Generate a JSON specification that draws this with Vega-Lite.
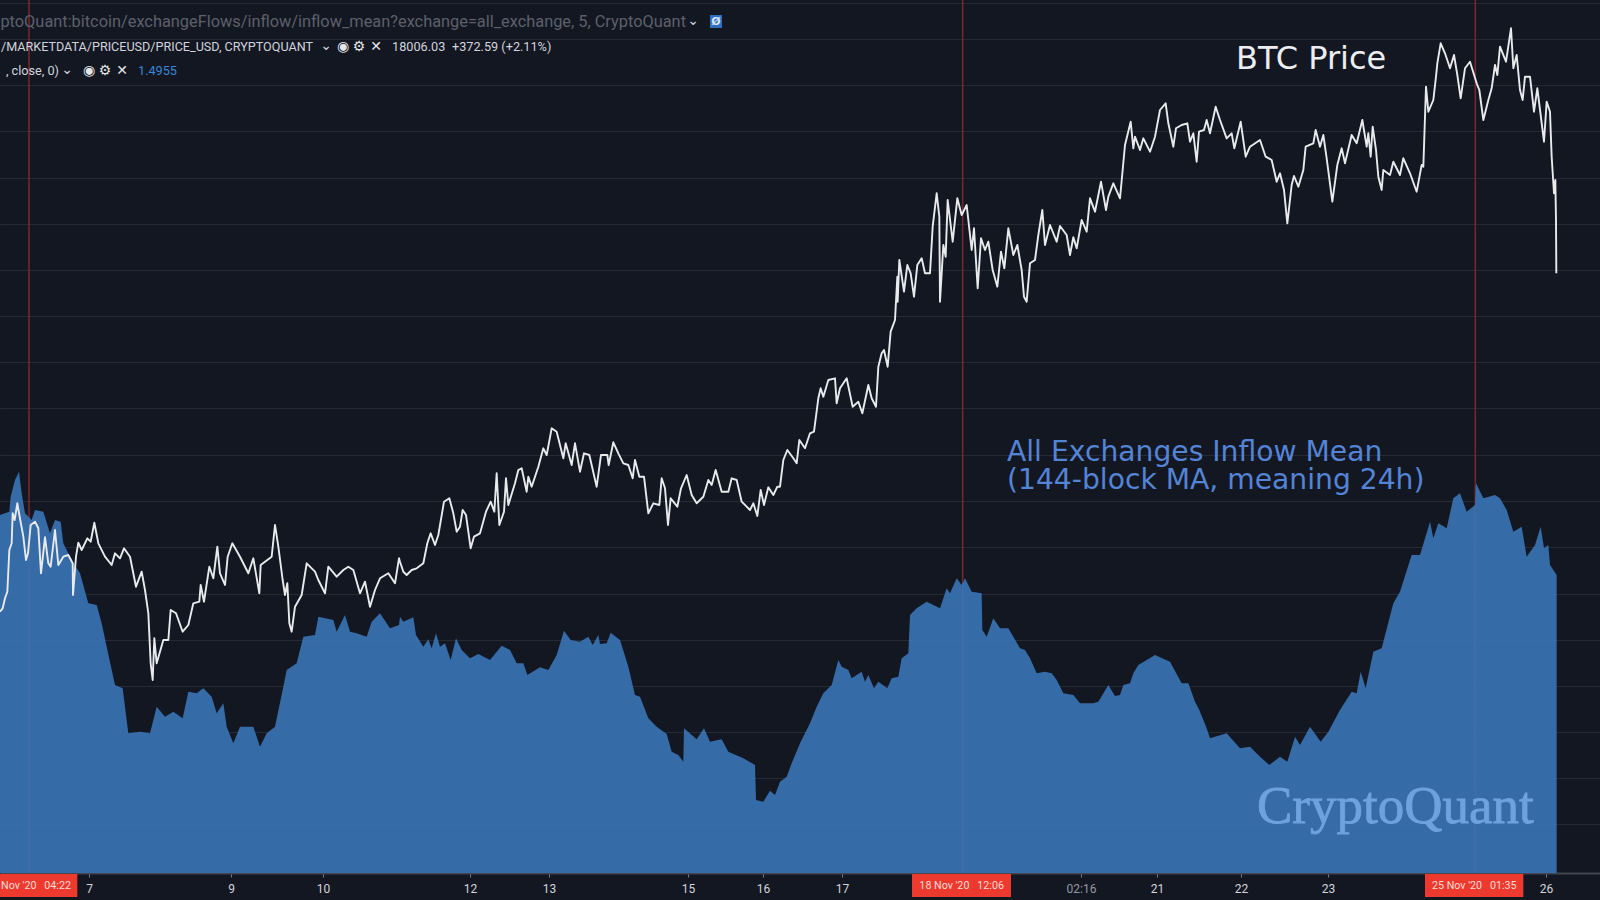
{"$schema":"https://vega.github.io/schema/vega-lite/v6.json","width":1600,"height":873,"padding":{"left":0,"top":0,"right":0,"bottom":27},"autosize":{"type":"none"},"background":"#131722","config":{"view":{"stroke":null},"text":{"font":"Roboto"}},
"datasets":{"one":[{"n":1}],
"markers":[{"bar":87,"when":"6 Nov '20 04:22"},{"bar":2888,"when":"18 Nov '20 12:06"},{"bar":4426,"when":"25 Nov '20 01:35"}],
"tags":[{"bar":0,"bar2":232,"mid":108,"label":"Nov '20\u00a0\u00a0\u00a004:22"},{"bar":2736,"bar2":3033,"mid":2885,"label":"18 Nov '20\u00a0\u00a0\u00a012:06"},{"bar":4275,"bar2":4570,"mid":4423,"label":"25 Nov '20\u00a0\u00a0\u00a001:35"}],
"inflow":[{"bar":0,"inflow":1.432},{"bar":28,"inflow":1.445},{"bar":32,"inflow":1.505},{"bar":45,"inflow":1.572},{"bar":57,"inflow":1.605},{"bar":65,"inflow":1.519},{"bar":75,"inflow":1.439},{"bar":95,"inflow":1.412},{"bar":105,"inflow":1.452},{"bar":130,"inflow":1.445},{"bar":150,"inflow":1.359},{"bar":165,"inflow":1.412},{"bar":182,"inflow":1.405},{"bar":190,"inflow":1.319},{"bar":215,"inflow":1.252},{"bar":240,"inflow":1.199},{"bar":265,"inflow":1.079},{"bar":290,"inflow":1.072},{"bar":305,"inflow":0.999},{"bar":320,"inflow":0.905},{"bar":345,"inflow":0.752},{"bar":368,"inflow":0.739},{"bar":385,"inflow":0.559},{"bar":420,"inflow":0.565},{"bar":450,"inflow":0.559},{"bar":470,"inflow":0.665},{"bar":495,"inflow":0.625},{"bar":520,"inflow":0.645},{"bar":548,"inflow":0.619},{"bar":565,"inflow":0.725},{"bar":590,"inflow":0.719},{"bar":610,"inflow":0.739},{"bar":635,"inflow":0.705},{"bar":650,"inflow":0.639},{"bar":670,"inflow":0.679},{"bar":680,"inflow":0.585},{"bar":700,"inflow":0.519},{"bar":720,"inflow":0.585},{"bar":760,"inflow":0.585},{"bar":780,"inflow":0.505},{"bar":800,"inflow":0.559},{"bar":825,"inflow":0.585},{"bar":850,"inflow":0.745},{"bar":860,"inflow":0.812},{"bar":890,"inflow":0.839},{"bar":910,"inflow":0.945},{"bar":945,"inflow":0.952},{"bar":955,"inflow":1.025},{"bar":1000,"inflow":1.012},{"bar":1010,"inflow":0.965},{"bar":1035,"inflow":1.032},{"bar":1050,"inflow":0.965},{"bar":1070,"inflow":0.959},{"bar":1100,"inflow":0.945},{"bar":1115,"inflow":1.005},{"bar":1140,"inflow":1.039},{"bar":1170,"inflow":0.979},{"bar":1197,"inflow":0.992},
{"bar":1200,"inflow":1.025},{"bar":1210,"inflow":1.005},{"bar":1240,"inflow":1.023},{"bar":1248,"inflow":0.952},{"bar":1270,"inflow":0.905},{"bar":1285,"inflow":0.935},{"bar":1295,"inflow":0.899},{"bar":1308,"inflow":0.959},{"bar":1320,"inflow":0.905},{"bar":1335,"inflow":0.919},{"bar":1352,"inflow":0.852},{"bar":1368,"inflow":0.939},{"bar":1385,"inflow":0.892},{"bar":1410,"inflow":0.859},{"bar":1435,"inflow":0.876},{"bar":1470,"inflow":0.852},{"bar":1505,"inflow":0.909},{"bar":1530,"inflow":0.892},{"bar":1550,"inflow":0.839},{"bar":1570,"inflow":0.839},{"bar":1582,"inflow":0.792},{"bar":1620,"inflow":0.823},{"bar":1645,"inflow":0.812},{"bar":1670,"inflow":0.872},{"bar":1692,"inflow":0.969},{"bar":1712,"inflow":0.932},{"bar":1740,"inflow":0.925},{"bar":1765,"inflow":0.945},{"bar":1778,"inflow":0.912},{"bar":1795,"inflow":0.952},{"bar":1800,"inflow":0.916},{"bar":1820,"inflow":0.919},{"bar":1832,"inflow":0.961},{"bar":1860,"inflow":0.932},{"bar":1885,"inflow":0.825},{"bar":1905,"inflow":0.712},{"bar":1920,"inflow":0.705},{"bar":1945,"inflow":0.619},{"bar":1970,"inflow":0.585},{"bar":2000,"inflow":0.556},{"bar":2015,"inflow":0.485},{"bar":2035,"inflow":0.472},{"bar":2050,"inflow":0.445},{"bar":2052,"inflow":0.579},{"bar":2090,"inflow":0.535},{"bar":2112,"inflow":0.579},{"bar":2130,"inflow":0.525},{"bar":2165,"inflow":0.535},{"bar":2185,"inflow":0.485},{"bar":2230,"inflow":0.459},{"bar":2265,"inflow":0.432},{"bar":2268,"inflow":0.292},{"bar":2290,"inflow":0.285},{"bar":2310,"inflow":0.329},{"bar":2325,"inflow":0.312},{"bar":2340,"inflow":0.365},{"bar":2360,"inflow":0.385},{"bar":2375,"inflow":0.439},{"bar":2398,"inflow":0.512},
{"bar":2400,"inflow":0.519},{"bar":2430,"inflow":0.599},{"bar":2450,"inflow":0.665},{"bar":2470,"inflow":0.719},{"bar":2495,"inflow":0.752},{"bar":2515,"inflow":0.852},{"bar":2525,"inflow":0.825},{"bar":2545,"inflow":0.812},{"bar":2555,"inflow":0.779},{"bar":2585,"inflow":0.805},{"bar":2595,"inflow":0.765},{"bar":2605,"inflow":0.792},{"bar":2622,"inflow":0.739},{"bar":2635,"inflow":0.765},{"bar":2662,"inflow":0.739},{"bar":2675,"inflow":0.779},{"bar":2695,"inflow":0.785},{"bar":2705,"inflow":0.859},{"bar":2725,"inflow":0.879},{"bar":2730,"inflow":1.032},{"bar":2750,"inflow":1.059},{"bar":2780,"inflow":1.085},{"bar":2820,"inflow":1.059},{"bar":2840,"inflow":1.139},{"bar":2850,"inflow":1.119},{"bar":2870,"inflow":1.179},{"bar":2885,"inflow":1.152},{"bar":2895,"inflow":1.179},{"bar":2915,"inflow":1.125},{"bar":2945,"inflow":1.119},{"bar":2947,"inflow":0.972},{"bar":2960,"inflow":0.945},{"bar":2980,"inflow":1.019},{"bar":3000,"inflow":0.979},{"bar":3025,"inflow":0.979},{"bar":3060,"inflow":0.899},{"bar":3075,"inflow":0.892},{"bar":3090,"inflow":0.859},{"bar":3110,"inflow":0.799},{"bar":3135,"inflow":0.805},{"bar":3155,"inflow":0.799},{"bar":3170,"inflow":0.772},{"bar":3190,"inflow":0.719},{"bar":3220,"inflow":0.712},{"bar":3240,"inflow":0.679},{"bar":3280,"inflow":0.679},{"bar":3295,"inflow":0.685},{"bar":3325,"inflow":0.752},{"bar":3345,"inflow":0.708},{"bar":3360,"inflow":0.712},{"bar":3370,"inflow":0.752},{"bar":3390,"inflow":0.759},{"bar":3400,"inflow":0.799},{"bar":3415,"inflow":0.832},{"bar":3465,"inflow":0.872},{"bar":3510,"inflow":0.845},{"bar":3545,"inflow":0.759},{"bar":3565,"inflow":0.759},{"bar":3585,"inflow":0.685},{"bar":3598,"inflow":0.652},
{"bar":3600,"inflow":0.645},{"bar":3620,"inflow":0.579},{"bar":3630,"inflow":0.539},{"bar":3680,"inflow":0.559},{"bar":3720,"inflow":0.499},{"bar":3750,"inflow":0.505},{"bar":3780,"inflow":0.465},{"bar":3808,"inflow":0.432},{"bar":3840,"inflow":0.465},{"bar":3862,"inflow":0.445},{"bar":3885,"inflow":0.545},{"bar":3900,"inflow":0.512},{"bar":3930,"inflow":0.585},{"bar":3962,"inflow":0.525},{"bar":3985,"inflow":0.565},{"bar":4020,"inflow":0.652},{"bar":4055,"inflow":0.725},{"bar":4070,"inflow":0.719},{"bar":4082,"inflow":0.805},{"bar":4097,"inflow":0.739},{"bar":4120,"inflow":0.885},{"bar":4145,"inflow":0.899},{"bar":4180,"inflow":1.079},{"bar":4200,"inflow":1.125},{"bar":4235,"inflow":1.272},{"bar":4260,"inflow":1.272},{"bar":4290,"inflow":1.405},{"bar":4300,"inflow":1.339},{"bar":4315,"inflow":1.399},{"bar":4340,"inflow":1.379},{"bar":4360,"inflow":1.499},{"bar":4380,"inflow":1.519},{"bar":4400,"inflow":1.445},{"bar":4425,"inflow":1.472},{"bar":4428,"inflow":1.559},{"bar":4450,"inflow":1.499},{"bar":4485,"inflow":1.512},{"bar":4500,"inflow":1.499},{"bar":4520,"inflow":1.452},{"bar":4540,"inflow":1.365},{"bar":4565,"inflow":1.385},{"bar":4580,"inflow":1.265},{"bar":4605,"inflow":1.312},{"bar":4622,"inflow":1.385},{"bar":4632,"inflow":1.299},{"bar":4645,"inflow":1.312},{"bar":4650,"inflow":1.232},{"bar":4670,"inflow":1.192}],
"price":[{"bar":0,"price":13883},{"bar":8,"price":13917},{"bar":15,"price":14017},{"bar":22,"price":14083},{"bar":28,"price":14500},{"bar":35,"price":14567},{"bar":38,"price":14867},{"bar":44,"price":14800},{"bar":52,"price":14967},{"bar":58,"price":14850},{"bar":70,"price":14633},{"bar":78,"price":14400},{"bar":84,"price":14467},{"bar":92,"price":14750},{"bar":105,"price":14783},{"bar":115,"price":14717},{"bar":123,"price":14267},{"bar":135,"price":14627},{"bar":145,"price":14367},{"bar":152,"price":14333},{"bar":165,"price":14700},{"bar":175,"price":14350},{"bar":190,"price":14433},{"bar":205,"price":14450},{"bar":218,"price":14367},{"bar":219,"price":14050},{"bar":228,"price":14433},{"bar":235,"price":14573},{"bar":245,"price":14500},{"bar":262,"price":14617},{"bar":272,"price":14583},{"bar":283,"price":14773},{"bar":295,"price":14567},{"bar":315,"price":14433},{"bar":335,"price":14350},{"bar":345,"price":14467},{"bar":360,"price":14417},{"bar":372,"price":14517},{"bar":390,"price":14433},{"bar":408,"price":14133},{"bar":425,"price":14283},{"bar":435,"price":14100},{"bar":445,"price":13867},{"bar":452,"price":13367},{"bar":458,"price":13200},{"bar":463,"price":13617},{"bar":470,"price":13367},{"bar":490,"price":13600},{"bar":505,"price":13600},{"bar":512,"price":13900},{"bar":528,"price":13867},{"bar":548,"price":13683},{"bar":565,"price":13750},{"bar":580,"price":13967},{"bar":598,"price":13983},{"bar":602,"price":14150},{"bar":612,"price":13983},{"bar":628,"price":14333},{"bar":640,"price":14217},{"bar":652,"price":14533},{"bar":660,"price":14267},{"bar":675,"price":14150},{"bar":683,"price":14433},{"bar":697,"price":14567},{"bar":720,"price":14433},{"bar":745,"price":14267},{"bar":760,"price":14417},{"bar":778,"price":14067},{"bar":782,"price":14350},{"bar":815,"price":14433},{"bar":825,"price":14750},{"bar":835,"price":14533},{"bar":848,"price":14200},{"bar":855,"price":14050},{"bar":862,"price":14167},{"bar":868,"price":13767},{"bar":875,"price":13683},{"bar":885,"price":13933},{"bar":905,"price":14050},{"bar":920,"price":14367},{"bar":945,"price":14283},{"bar":955,"price":14200},{"bar":975,"price":14067},{"bar":985,"price":14333},{"bar":1010,"price":14233},{"bar":1030,"price":14300},{"bar":1045,"price":14333},{"bar":1060,"price":14300},{"bar":1080,"price":14067},{"bar":1095,"price":14183},{"bar":1110,"price":13933},{"bar":1125,"price":14100},{"bar":1140,"price":14217},{"bar":1165,"price":14267},{"bar":1185,"price":14167},{"bar":1197,"price":14417},
{"bar":1200,"price":14383},{"bar":1210,"price":14283},{"bar":1220,"price":14250},{"bar":1235,"price":14300},{"bar":1250,"price":14317},{"bar":1270,"price":14367},{"bar":1282,"price":14567},{"bar":1292,"price":14667},{"bar":1305,"price":14550},{"bar":1315,"price":14650},{"bar":1332,"price":14983},{"bar":1348,"price":15017},{"bar":1360,"price":14867},{"bar":1370,"price":14683},{"bar":1380,"price":14733},{"bar":1388,"price":14900},{"bar":1398,"price":14850},{"bar":1412,"price":14517},{"bar":1422,"price":14633},{"bar":1440,"price":14667},{"bar":1458,"price":14883},{"bar":1472,"price":14983},{"bar":1483,"price":14883},{"bar":1490,"price":15267},{"bar":1498,"price":14750},{"bar":1512,"price":14883},{"bar":1518,"price":15217},{"bar":1525,"price":14950},{"bar":1545,"price":15167},{"bar":1555,"price":15300},{"bar":1565,"price":15317},{"bar":1580,"price":15083},{"bar":1585,"price":15233},{"bar":1595,"price":15133},{"bar":1615,"price":15333},{"bar":1630,"price":15517},{"bar":1640,"price":15450},{"bar":1655,"price":15717},{"bar":1670,"price":15683},{"bar":1690,"price":15417},{"bar":1697,"price":15567},{"bar":1715,"price":15350},{"bar":1725,"price":15567},{"bar":1740,"price":15283},{"bar":1752,"price":15467},{"bar":1768,"price":15450},{"bar":1790,"price":15133},{"bar":1803,"price":15450},{"bar":1822,"price":15450},{"bar":1826,"price":15350},{"bar":1840,"price":15577},{"bar":1855,"price":15467},{"bar":1870,"price":15367},{"bar":1885,"price":15350},{"bar":1898,"price":15217},{"bar":1905,"price":15400},{"bar":1918,"price":15233},{"bar":1932,"price":15233},{"bar":1945,"price":14867},{"bar":1960,"price":14967},{"bar":1978,"price":14950},{"bar":1985,"price":15217},{"bar":1995,"price":15117},{"bar":2004,"price":14750},{"bar":2012,"price":15017},{"bar":2032,"price":14933},{"bar":2043,"price":15117},{"bar":2060,"price":15250},{"bar":2075,"price":15050},{"bar":2090,"price":14967},{"bar":2110,"price":15033},{"bar":2125,"price":15200},{"bar":2135,"price":15150},{"bar":2147,"price":15300},{"bar":2165,"price":15083},{"bar":2185,"price":15083},{"bar":2195,"price":15217},{"bar":2210,"price":15200},{"bar":2225,"price":14983},{"bar":2250,"price":14900},{"bar":2260,"price":14967},{"bar":2272,"price":14840},{"bar":2282,"price":15100},{"bar":2292,"price":14950},{"bar":2305,"price":15127},{"bar":2320,"price":15050},{"bar":2332,"price":15133},{"bar":2340,"price":15133},{"bar":2350,"price":15400},{"bar":2362,"price":15500},{"bar":2380,"price":15417},{"bar":2390,"price":15367},{"bar":2398,"price":15600},
{"bar":2415,"price":15517},{"bar":2430,"price":15667},{"bar":2442,"price":15683},{"bar":2455,"price":16017},{"bar":2462,"price":16117},{"bar":2470,"price":16033},{"bar":2485,"price":16200},{"bar":2505,"price":16217},{"bar":2510,"price":15967},{"bar":2520,"price":16117},{"bar":2540,"price":16217},{"bar":2558,"price":15933},{"bar":2575,"price":15983},{"bar":2587,"price":15867},{"bar":2605,"price":16150},{"bar":2615,"price":16017},{"bar":2628,"price":15933},{"bar":2635,"price":16333},{"bar":2645,"price":16467},{"bar":2652,"price":16500},{"bar":2663,"price":16333},{"bar":2672,"price":16683},{"bar":2685,"price":16800},{"bar":2693,"price":16983},{"bar":2692,"price":17233},{"bar":2698,"price":17400},{"bar":2712,"price":17083},{"bar":2722,"price":17350},{"bar":2732,"price":17267},{"bar":2742,"price":17033},{"bar":2752,"price":17350},{"bar":2765,"price":17417},{"bar":2775,"price":17267},{"bar":2790,"price":17267},{"bar":2798,"price":17733},{"bar":2810,"price":18067},{"bar":2818,"price":17833},{"bar":2820,"price":16983},{"bar":2830,"price":17550},{"bar":2837,"price":17433},{"bar":2843,"price":18000},{"bar":2858,"price":17583},{"bar":2872,"price":18017},{"bar":2885,"price":17850},{"bar":2900,"price":17950},{"bar":2915,"price":17500},{"bar":2922,"price":17717},{"bar":2933,"price":17117},{"bar":2943,"price":17617},{"bar":2955,"price":17500},{"bar":2965,"price":17583},{"bar":2978,"price":17300},{"bar":2992,"price":17133},{"bar":3003,"price":17483},{"bar":3013,"price":17317},{"bar":3025,"price":17717},{"bar":3040,"price":17450},{"bar":3052,"price":17550},{"bar":3065,"price":17300},{"bar":3072,"price":17033},{"bar":3080,"price":16983},{"bar":3090,"price":17367},{"bar":3105,"price":17400},{"bar":3115,"price":17650},{"bar":3127,"price":17900},{"bar":3135,"price":17550},{"bar":3150,"price":17750},{"bar":3170,"price":17583},{"bar":3180,"price":17740},{"bar":3200,"price":17650},{"bar":3210,"price":17450},{"bar":3220,"price":17627},{"bar":3230,"price":17517},{"bar":3245,"price":17800},{"bar":3260,"price":17683},{"bar":3270,"price":18017},{"bar":3285,"price":17883},{"bar":3303,"price":18183},{"bar":3318,"price":17900},{"bar":3325,"price":18033},{"bar":3340,"price":18167},{"bar":3360,"price":18017},{"bar":3368,"price":18300},
{"bar":3375,"price":18550},{"bar":3392,"price":18783},{"bar":3400,"price":18517},{"bar":3405,"price":18633},{"bar":3420,"price":18500},{"bar":3430,"price":18617},{"bar":3450,"price":18483},{"bar":3465,"price":18633},{"bar":3480,"price":18900},{"bar":3497,"price":18967},{"bar":3505,"price":18767},{"bar":3520,"price":18533},{"bar":3528,"price":18717},{"bar":3545,"price":18750},{"bar":3562,"price":18767},{"bar":3570,"price":18583},{"bar":3580,"price":18667},{"bar":3590,"price":18383},{"bar":3597,"price":18683},{"bar":3612,"price":18700},{"bar":3620,"price":18800},{"bar":3630,"price":18667},{"bar":3647,"price":18933},{"bar":3660,"price":18800},{"bar":3680,"price":18617},{"bar":3695,"price":18667},{"bar":3703,"price":18517},{"bar":3722,"price":18783},{"bar":3737,"price":18433},{"bar":3750,"price":18533},{"bar":3780,"price":18600},{"bar":3797,"price":18433},{"bar":3815,"price":18400},{"bar":3830,"price":18183},{"bar":3840,"price":18267},{"bar":3852,"price":18100},{"bar":3862,"price":17767},{"bar":3875,"price":18150},{"bar":3882,"price":18240},{"bar":3895,"price":18133},{"bar":3910,"price":18300},{"bar":3917,"price":18533},{"bar":3940,"price":18567},{"bar":3947,"price":18700},{"bar":3960,"price":18533},{"bar":3970,"price":18650},{"bar":3980,"price":18417},{"bar":3997,"price":17983},{"bar":4012,"price":18350},{"bar":4025,"price":18517},{"bar":4035,"price":18367},{"bar":4055,"price":18650},{"bar":4070,"price":18567},{"bar":4087,"price":18800},{"bar":4100,"price":18533},{"bar":4105,"price":18667},{"bar":4112,"price":18433},{"bar":4118,"price":18733},{"bar":4128,"price":18500},{"bar":4135,"price":18233},{"bar":4145,"price":18100},{"bar":4150,"price":18300},{"bar":4170,"price":18250},{"bar":4180,"price":18383},{"bar":4200,"price":18250},{"bar":4210,"price":18417},{"bar":4230,"price":18267},{"bar":4250,"price":18083},{"bar":4265,"price":18350},{"bar":4270,"price":18333},{"bar":4278,"price":19133},{"bar":4285,"price":18883},{"bar":4300,"price":19000},{"bar":4308,"price":19233},
{"bar":4312,"price":19367},{"bar":4322,"price":19567},{"bar":4335,"price":19467},{"bar":4350,"price":19317},{"bar":4362,"price":19450},{"bar":4372,"price":19250},{"bar":4382,"price":19017},{"bar":4395,"price":19317},{"bar":4410,"price":19383},{"bar":4430,"price":19167},{"bar":4438,"price":19100},{"bar":4450,"price":18800},{"bar":4465,"price":19000},{"bar":4475,"price":19117},{"bar":4485,"price":19350},{"bar":4492,"price":19250},{"bar":4500,"price":19533},{"bar":4518,"price":19383},{"bar":4533,"price":19717},{"bar":4540,"price":19317},{"bar":4550,"price":19450},{"bar":4560,"price":19100},{"bar":4568,"price":19000},{"bar":4575,"price":19233},{"bar":4590,"price":19233},{"bar":4602,"price":18883},{"bar":4612,"price":19117},{"bar":4632,"price":18583},{"bar":4640,"price":18983},{"bar":4650,"price":18883},{"bar":4655,"price":18433},{"bar":4662,"price":18067},{"bar":4666,"price":18200},{"bar":4668,"price":17800},{"bar":4669,"price":17267}]},
"layer":[
{"data":{"name":"markers"},"mark":{"type":"rule","color":"#7a2a2f","strokeWidth":1.5},"encoding":{"x":{"field":"bar","type":"quantitative","title":null,"scale":{"domain":[0,4800],"nice":false,"zero":false},"axis":{"title":null,"grid":false,"values":[267,693,969,1410,1647,2064,2289,2526,3243,3471,3723,3984,4638],"labelExpr":"{267:'7',693:'9',969:'10',1410:'12',1647:'13',2064:'15',2289:'16',2526:'17',3243:'02:16',3471:'21',3723:'22',3984:'23',4638:'26'}[datum.value]","labelFont":"Roboto","labelFontSize":12,"labelColor":{"condition":{"test":"datum.value==3243","value":"#9598a1"},"value":"#d1d4dc"},"labelPadding":6,"labelOverlap":false,"labelFlush":false,"tickColor":"#787b86","tickSize":4,"domainColor":"#434651","domainWidth":2}}}},
{"data":{"name":"inflow"},"mark":{"type":"area","color":"#3a74b6","opacity":0.9,"clip":false},"encoding":{"x":{"field":"bar","type":"quantitative","title":null},"y":{"field":"inflow","type":"quantitative","title":null,"axis":null,"stack":null,"scale":{"domain":[0,3.492],"nice":false}}}},
{"encoding":{"y":{"type":"quantitative","title":null,"scale":{"domain":[11270,20000],"nice":false,"zero":false},"axis":{"title":null,"labels":false,"ticks":false,"domain":false,"grid":true,"gridColor":"#262a35","gridWidth":1,"values":[19970,19610,19150,18690,18220,17760,17300,16840,16380,15920,15450,14990,14530,14060,13600,13140,12680,12220,11760]}}},
"layer":[
{"data":{"name":"price"},"mark":{"type":"line","color":"#e9eaec","strokeWidth":1.9,"strokeJoin":"round"},"encoding":{"x":{"field":"bar","type":"quantitative","title":null},"y":{"field":"price"}}},
{"data":{"name":"tags"},"mark":{"type":"rect","color":"#ee3a2e"},"encoding":{"x":{"field":"bar","type":"quantitative","title":null},"x2":{"field":"bar2"},"y":{"datum":11260},"y2":{"datum":11030}}},
{"data":{"name":"tags"},"mark":{"type":"text","color":"#f7dcd8","fontSize":10.7,"font":"Roboto"},"encoding":{"x":{"field":"mid","type":"quantitative","title":null},"y":{"datum":11145},"text":{"field":"label"}}},
{"data":{"name":"one"},"mark":{"type":"text","align":"left","font":"DejaVu Sans","fontSize":32,"color":"#eceef2","baseline":"middle"},"encoding":{"x":{"datum":3708},"y":{"datum":19410},"text":{"value":"BTC Price"}}},
{"data":{"name":"one"},"mark":{"type":"text","align":"left","font":"DejaVu Sans","fontSize":28.2,"color":"#5484d6","baseline":"alphabetic"},"encoding":{"x":{"datum":3021},"y":{"datum":15390},"text":{"value":"All Exchanges Inflow Mean"}}},
{"data":{"name":"one"},"mark":{"type":"text","align":"left","font":"DejaVu Sans","fontSize":28.2,"color":"#5484d6","baseline":"alphabetic"},"encoding":{"x":{"datum":3021},"y":{"datum":15110},"text":{"value":"(144-block MA, meaning 24h)"}}},
{"data":{"name":"one"},"mark":{"type":"text","align":"left","font":"Liberation Serif","fontSize":53,"color":"#6ea2de","stroke":"#6ea2de","strokeWidth":0.8,"baseline":"alphabetic"},"encoding":{"x":{"datum":3771},"y":{"datum":11770},"text":{"value":"CryptoQuant"}}},
{"data":{"name":"one"},"mark":{"type":"text","align":"right","fontSize":16.35,"color":"#5d606b"},"encoding":{"x":{"datum":2058},"y":{"datum":19780},"text":{"value":"ptoQuant:bitcoin/exchangeFlows/inflow/inflow_mean?exchange=all_exchange, 5, CryptoQuant"}}},
{"data":{"name":"one"},"mark":{"type":"text","font":"DejaVu Sans","fontSize":14,"color":"#d1d4dc"},"encoding":{"x":{"datum":2079},"y":{"datum":19790},"text":{"value":"⌄"}}},
{"data":{"name":"one"},"mark":{"type":"rect","color":"#2f6fc0"},"encoding":{"x":{"datum":2130},"x2":{"datum":2166},"y":{"datum":19850},"y2":{"datum":19720}}},
{"data":{"name":"one"},"mark":{"type":"text","font":"DejaVu Sans","fontWeight":"bold","fontSize":11,"color":"#d5e4f7"},"encoding":{"x":{"datum":2148},"y":{"datum":19780},"text":{"value":"Ø"}}},
{"data":{"name":"one"},"mark":{"type":"text","align":"right","fontSize":12.6,"color":"#d1d4dc"},"encoding":{"x":{"datum":939},"y":{"datum":19530},"text":{"value":"/MARKETDATA/PRICEUSD/PRICE_USD, CRYPTOQUANT"}}},
{"data":{"name":"one"},"mark":{"type":"text","font":"DejaVu Sans","fontSize":14,"color":"#d1d4dc"},"encoding":{"x":{"datum":978},"y":{"datum":19540},"text":{"value":"⌄"}}},
{"data":{"name":"one"},"mark":{"type":"text","font":"DejaVu Sans","fontSize":14,"color":"#e4e6ea"},"encoding":{"x":{"datum":1029},"y":{"datum":19530},"text":{"value":"◉"}}},
{"data":{"name":"one"},"mark":{"type":"text","font":"DejaVu Sans","fontSize":14,"color":"#e4e6ea"},"encoding":{"x":{"datum":1077},"y":{"datum":19530},"text":{"value":"⚙"}}},
{"data":{"name":"one"},"mark":{"type":"text","font":"DejaVu Sans","fontSize":14,"fontWeight":"bold","color":"#e4e6ea"},"encoding":{"x":{"datum":1128},"y":{"datum":19530},"text":{"value":"✕"}}},
{"data":{"name":"one"},"mark":{"type":"text","align":"left","fontSize":12.7,"color":"#d1d4dc"},"encoding":{"x":{"datum":1176},"y":{"datum":19530},"text":{"value":"18006.03"}}},
{"data":{"name":"one"},"mark":{"type":"text","align":"left","fontSize":12.7,"color":"#d1d4dc"},"encoding":{"x":{"datum":1356},"y":{"datum":19530},"text":{"value":"+372.59 (+2.11%)"}}},
{"data":{"name":"one"},"mark":{"type":"text","align":"right","fontSize":12.7,"color":"#d1d4dc"},"encoding":{"x":{"datum":177},"y":{"datum":19290},"text":{"value":", close, 0)"}}},
{"data":{"name":"one"},"mark":{"type":"text","font":"DejaVu Sans","fontSize":14,"color":"#d1d4dc"},"encoding":{"x":{"datum":201},"y":{"datum":19300},"text":{"value":"⌄"}}},
{"data":{"name":"one"},"mark":{"type":"text","font":"DejaVu Sans","fontSize":14,"color":"#e4e6ea"},"encoding":{"x":{"datum":267},"y":{"datum":19290},"text":{"value":"◉"}}},
{"data":{"name":"one"},"mark":{"type":"text","font":"DejaVu Sans","fontSize":14,"color":"#e4e6ea"},"encoding":{"x":{"datum":315},"y":{"datum":19290},"text":{"value":"⚙"}}},
{"data":{"name":"one"},"mark":{"type":"text","font":"DejaVu Sans","fontSize":14,"fontWeight":"bold","color":"#e4e6ea"},"encoding":{"x":{"datum":366},"y":{"datum":19290},"text":{"value":"✕"}}},
{"data":{"name":"one"},"mark":{"type":"text","align":"left","fontSize":12.7,"color":"#3a86d8"},"encoding":{"x":{"datum":414},"y":{"datum":19290},"text":{"value":"1.4955"}}}
]}
],
"resolve":{"scale":{"y":"independent"},"axis":{"y":"independent"}}}
